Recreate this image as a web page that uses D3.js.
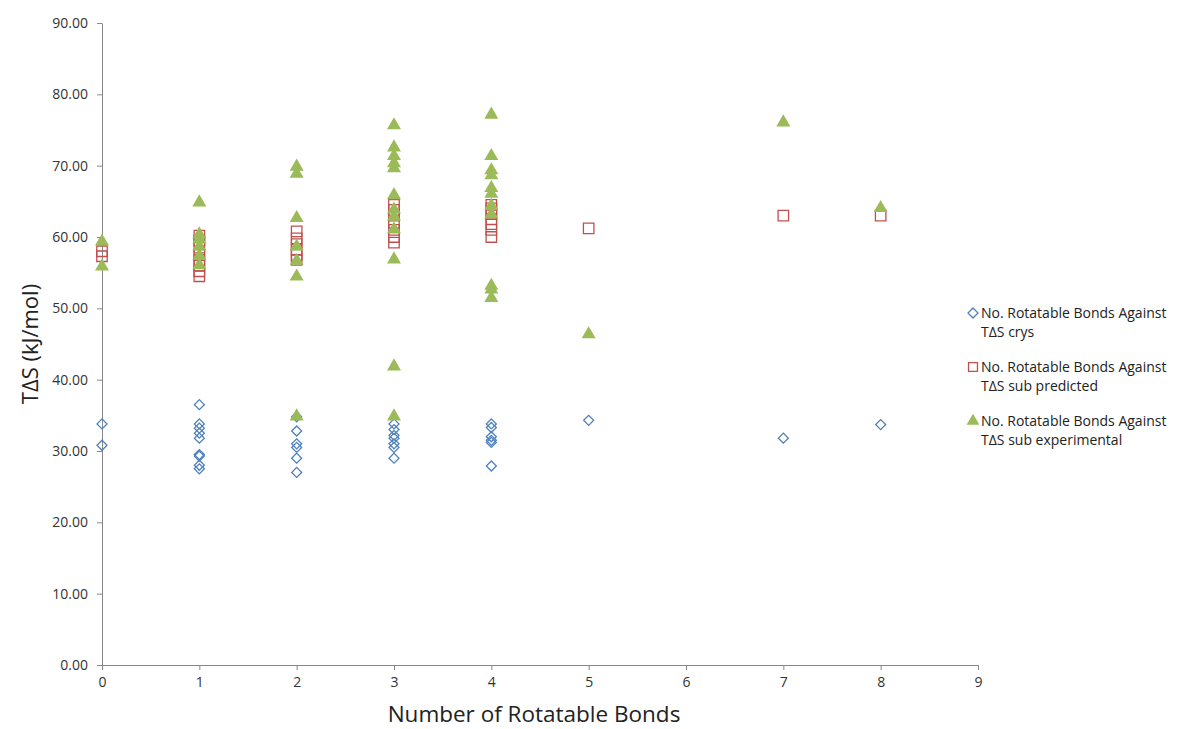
<!DOCTYPE html>
<html>
<head>
<meta charset="utf-8">
<script src="https://cdn.jsdelivr.net/npm/d3@7"></script>
<style>
  body { margin: 0; background: #fff; }
  svg { display: block; font-family: "Open Sans", Lato, sans-serif; }
</style>
</head>
<body>
<div id="chart"></div>
<script>
// Data: [rotatable bonds, TΔS]
var crys = [
  [0, 33.8], [0, 30.8],
  [1, 36.5], [1, 33.8], [1, 33.2], [1, 32.5], [1, 31.8], [1, 29.5], [1, 29.3], [1, 28.0], [1, 27.5],
  [2, 34.8], [2, 32.8], [2, 31.0], [2, 30.5], [2, 29.0], [2, 27.0],
  [3, 33.8], [3, 33.0], [3, 32.2], [3, 31.8], [3, 31.0], [3, 30.5], [3, 29.0],
  [4, 33.8], [4, 33.3], [4, 32.0], [4, 31.5], [4, 31.2], [4, 27.9],
  [5, 34.3], [7, 31.8], [8, 33.7]
];
var predicted = [
  [0, 58.0], [0, 57.3],
  [1, 60.2], [1, 59.5], [1, 58.5], [1, 57.5], [1, 56.8], [1, 56.0], [1, 55.2], [1, 54.5],
  [2, 60.8], [2, 59.8], [2, 59.0], [2, 58.2], [2, 57.5], [2, 56.8],
  [3, 64.5], [3, 63.8], [3, 63.0], [3, 62.0], [3, 61.0], [3, 60.0], [3, 59.2],
  [4, 64.5], [4, 64.0], [4, 63.2], [4, 62.5], [4, 61.8], [4, 61.0], [4, 60.0],
  [5, 61.2], [7, 63.0], [8, 63.0]
];
var experimental = [
  [0, 59.5], [0, 56.0],
  [1, 65.0], [1, 60.5], [1, 59.8], [1, 58.8], [1, 57.5], [1, 56.2],
  [2, 70.0], [2, 69.0], [2, 62.8], [2, 58.8], [2, 56.8], [2, 54.6], [2, 35.0],
  [3, 75.8], [3, 72.7], [3, 71.5], [3, 70.5], [3, 69.8], [3, 66.0], [3, 64.0], [3, 63.0], [3, 61.2], [3, 57.0], [3, 42.0], [3, 35.0],
  [4, 77.3], [4, 71.5], [4, 69.5], [4, 68.8], [4, 67.0], [4, 66.2], [4, 64.5], [4, 63.3], [4, 53.3], [4, 52.8], [4, 51.6],
  [5, 46.5], [7, 76.2], [8, 64.2]
];
var xTicks = [0, 1, 2, 3, 4, 5, 6, 7, 8, 9];
var yTicks = [0, 10, 20, 30, 40, 50, 60, 70, 80, 90];
var seriesNames = [
  ['No. Rotatable Bonds Against', 'TΔS crys'],
  ['No. Rotatable Bonds Against', 'TΔS sub predicted'],
  ['No. Rotatable Bonds Against', 'TΔS sub experimental']
];

var svgWidth = 1204, svgHeight = 729;
var margin = {top: 23, left: 102, right: 226, bottom: 64};
var width = svgWidth - margin.left - margin.right;
var height = svgHeight - margin.top - margin.bottom;

var svg = d3.select('#chart').append('svg')
    .attr('width', svgWidth)
    .attr('height', svgHeight);

var chart = svg.append('g')
    .attr('transform', 'translate(' + margin.left + ',' + margin.top + ')');

var x = d3.scaleLinear().domain([0, 9]).range([0, width]);
var y = d3.scaleLinear().domain([0, 90]).range([height, 0]);

// axes
var xAxis = chart.append('g')
    .attr('transform', 'translate(0,' + height + ')')
    .call(d3.axisBottom(x).tickValues(xTicks).tickSize(5).tickSizeOuter(0).tickFormat(d3.format('d')));
var yAxis = chart.append('g')
    .call(d3.axisLeft(y).tickValues(yTicks).tickSize(5).tickSizeOuter(0).tickFormat(d3.format('.2f')));

[xAxis, yAxis].forEach(function(a) {
  a.attr('font-family', '"Open Sans", sans-serif').attr('font-size', 14);
  a.select('.domain').attr('stroke', '#888');
  a.selectAll('.tick line').attr('stroke', '#888');
  a.selectAll('.tick text').attr('fill', '#333');
});
xAxis.selectAll('.tick text').attr('dy', '1.0em');
yAxis.selectAll('.tick text').attr('x', -14);

// markers
var blue = '#4F81BD', red = '#C0504D', green = '#9BBB59';
var diamond = d3.symbol().type(d3.symbolSquare).size(50);
var square = d3.symbol().type(d3.symbolSquare).size(110);
var triangle = d3.symbol().type(d3.symbolTriangle).size(85);

chart.selectAll('.crys')
    .data(crys)
    .enter()
    .append('path')
        .attr('class', 'crys')
        .attr('d', diamond)
        .attr('transform', function(d) { return 'translate(' + x(d[0]) + ',' + y(d[1]) + ') rotate(45)'; })
        .attr('fill', 'none')
        .attr('stroke', blue)
        .attr('stroke-width', 1.3);

chart.selectAll('.pred')
    .data(predicted)
    .enter()
    .append('path')
        .attr('class', 'pred')
        .attr('d', square)
        .attr('transform', function(d) { return 'translate(' + x(d[0]) + ',' + y(d[1]) + ')'; })
        .attr('fill', 'none')
        .attr('stroke', red)
        .attr('stroke-width', 1.3);

chart.selectAll('.exp')
    .data(experimental)
    .enter()
    .append('path')
        .attr('class', 'exp')
        .attr('d', triangle)
        .attr('transform', function(d) { return 'translate(' + x(d[0]) + ',' + (y(d[1]) + 1) + ')'; })
        .attr('fill', green);

// axis titles
svg.append('text')
    .attr('transform', 'translate(38,' + (margin.top + height / 2) + ') rotate(-90)')
    .attr('text-anchor', 'middle')
    .attr('font-size', 22)
    .attr('fill', '#222')
    .text('TΔS (kJ/mol)');

svg.append('text')
    .attr('x', margin.left + width / 2 - 6)
    .attr('y', 722)
    .attr('text-anchor', 'middle')
    .attr('font-size', 22.5)
    .attr('fill', '#222')
    .text('Number of Rotatable Bonds');

// legend
var legend = svg.append('g').attr('transform', 'translate(973,313)');
var markers = [
  {d: diamond, fill: 'none', stroke: blue, rot: 45},
  {d: d3.symbol().type(d3.symbolSquare).size(80), fill: 'none', stroke: red, rot: 0},
  {d: d3.symbol().type(d3.symbolTriangle).size(70), fill: green, stroke: 'none', rot: 0}
];
seriesNames.forEach(function(lines, i) {
  var g = legend.append('g').attr('transform', 'translate(0,' + (i * 54) + ')');
  g.append('path')
      .attr('d', markers[i].d)
      .attr('transform', 'translate(0,0) rotate(' + markers[i].rot + ')')
      .attr('fill', markers[i].fill)
      .attr('stroke', markers[i].stroke)
      .attr('stroke-width', 1.3);
  lines.forEach(function(line, j) {
    g.append('text')
        .attr('x', 8)
        .attr('y', 5 + j * 19)
        .attr('font-size', 14)
        .attr('fill', '#222')
        .text(line);
  });
});
</script>
</body>
</html>
